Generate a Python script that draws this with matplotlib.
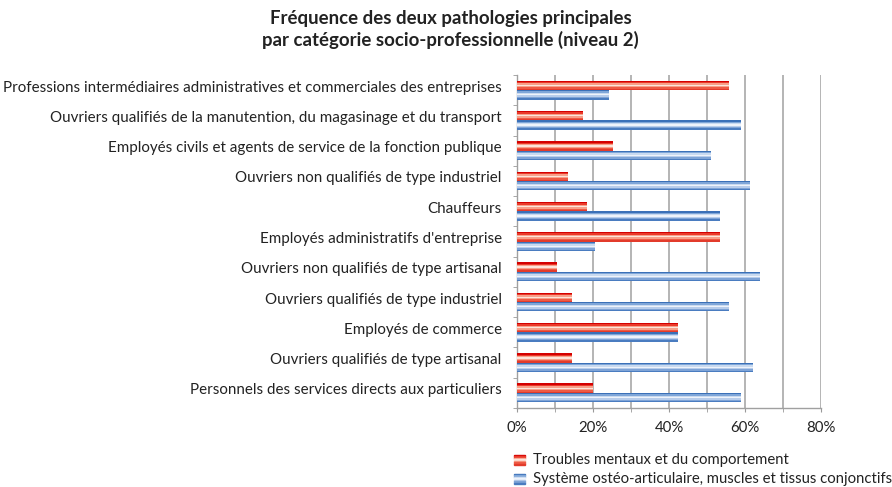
import numpy as np
import matplotlib.pyplot as plt
from matplotlib.patches import Rectangle
from matplotlib.transforms import ScaledTranslation

plt.rcParams['font.family'] = ['Lato', 'DejaVu Sans']

categories = [
    "Professions intermédiaires administratives et commerciales des entreprises",
    "Ouvriers qualifiés de la manutention, du magasinage et du transport",
    "Employés civils et agents de service de la fonction publique",
    "Ouvriers non qualifiés de type industriel",
    "Chauffeurs",
    "Employés administratifs d'entreprise",
    "Ouvriers non qualifiés de type artisanal",
    "Ouvriers qualifiés de type industriel",
    "Employés de commerce",
    "Ouvriers qualifiés de type artisanal",
    "Personnels des services directs aux particuliers",
]
troubles_mentaux = [55.8, 17.3, 25.2, 13.4, 18.4, 53.3, 10.4, 14.4, 42.5, 14.4, 20.1]
osteo_articulaire = [24.3, 58.9, 51.1, 61.2, 53.3, 20.6, 64.0, 55.7, 42.5, 62.1, 58.9]
series_names = ["Troubles mentaux et du comportement",
                "Système ostéo-articulaire, muscles et tissus conjonctifs"]
xticks = [0, 20, 40, 60, 80]

# couleurs en dégradé (haut -> bas), façon Excel
red_grad = ['#d40000', '#ea3a2a', '#f7a08a', '#fde4da', '#f7a08a', '#ee5a45', '#e23b2b']
blue_grad = ['#3a70b8', '#7fa6d8', '#c9daf0', '#eef3fb', '#b8cdeb', '#7ea3d6', '#4a7cc0']


def gradient_bar(ax, y, width, height, colors):
    n = len(colors)
    h = height / n
    for k, c in enumerate(colors):
        # k=0 en haut (axe y inversé)
        ax.barh(y - height / 2 + h * (k + 0.5), width, height=h, color=c,
                linewidth=0, zorder=3)


fig = plt.figure(figsize=(8.92, 4.87), dpi=100)
ax = fig.add_axes([0.5796, 0.1622, 0.9204 - 0.5796, 0.846 - 0.1622])

pos = np.arange(len(categories))
bh = 0.31
for i in pos:
    gradient_bar(ax, i - bh / 2, troubles_mentaux[i], bh, red_grad)
    gradient_bar(ax, i + bh / 2, osteo_articulaire[i], bh, blue_grad)

ax.set_ylim(len(categories) - 0.5, -0.5)
ax.set_xlim(0, 80)
ax.set_yticks(pos)
ax.set_yticklabels(categories, fontsize=10.9, color='#222222')
ax.tick_params(axis='y', length=0, pad=11)
ax.set_yticks(np.arange(-0.5, len(categories)), minor=True)
ax.tick_params(axis='y', which='minor', length=3, color='#999999')
# les libellés sont légèrement au-dessus du centre des barres
shift = ScaledTranslation(0, 0.04, fig.dpi_scale_trans)
for lbl in ax.get_yticklabels():
    lbl.set_transform(lbl.get_transform() + shift)

ax.set_xticks(xticks)
ax.set_xticklabels([f"{v}%" for v in xticks], fontsize=10.8, color='#222222')
ax.set_xticks(np.arange(10, 80, 20), minor=True)
ax.tick_params(axis='x', which='both', length=3, color='#999999', pad=6)
for v in range(10, 81, 10):
    ax.axvline(v, color='#b4b4b4', linewidth=1.4, zorder=1)

for s in ['top', 'right']:
    ax.spines[s].set_visible(False)
for s in ['left', 'bottom']:
    ax.spines[s].set_color('#a0a0a0')
    ax.spines[s].set_linewidth(1.0)

fig.text(0.505, 0.963, "Fréquence des deux pathologies principales",
         ha='center', va='center', fontsize=13.4, fontweight='bold', color='#222222')
fig.text(0.505, 0.918, "par catégorie socio-professionnelle (niveau 2)",
         ha='center', va='center', fontsize=13.4, fontweight='bold', color='#222222')

# légende
leg_y = [460, 479]
for name, grad, yy in zip(series_names, [red_grad, blue_grad], leg_y):
    y0 = 1 - (yy + 5) / 487
    n = len(grad)
    for k, c in enumerate(grad):
        fig.patches.append(Rectangle((514 / 892, y0 + (n - 1 - k) * 10 / 487 / n),
                                     11 / 892, 10 / 487 / n, color=c,
                                     transform=fig.transFigure, figure=fig))
    fig.text(533 / 892, 1 - yy / 487, name, ha='left', va='center',
             fontsize=10.7, color='#222222')

fig.savefig('out.png', dpi=100)
